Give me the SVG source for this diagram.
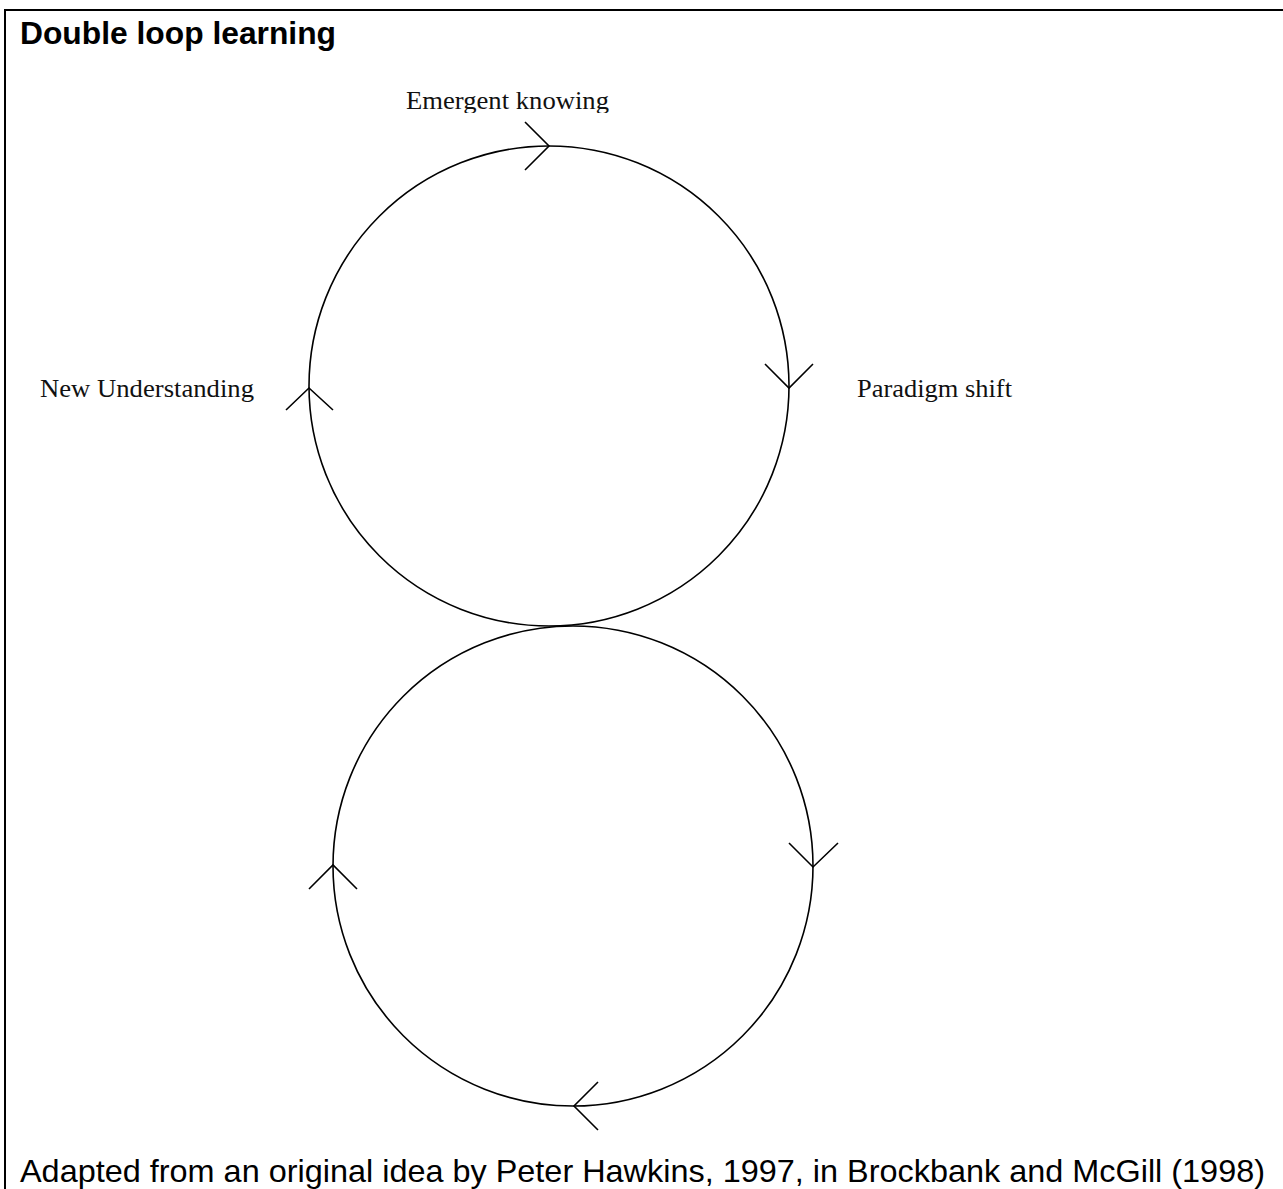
<svg xmlns="http://www.w3.org/2000/svg" width="1283" height="1189" viewBox="0 0 1283 1189">
<style>
.frame{fill:none;stroke:#000;stroke-width:2}
.loop{fill:none;stroke:#000;stroke-width:1.6}
.arrow{fill:none;stroke:#000;stroke-width:1.6;stroke-linecap:butt;stroke-linejoin:miter}
.serif{font-family:"Liberation Serif","Times New Roman",serif;font-size:26px;fill:#111}
.sans{font-family:"Liberation Sans",Arial,sans-serif;fill:#000}
</style>
<defs>
<clipPath id="clipTop"><rect x="0" y="0" width="1283" height="113"/></clipPath>
</defs>
<rect width="1283" height="1189" fill="#fff"/>
<g id="frame">
<line class="frame" x1="5" y1="10" x2="1283" y2="10"/>
<line class="frame" x1="5" y1="9" x2="5" y2="1189"/>
</g>
<g id="title">
<text class="sans" x="20" y="44" font-size="32" font-weight="bold" textLength="316" lengthAdjust="spacingAndGlyphs">Double loop learning</text>
</g>
<g id="top-loop">
<circle class="loop" cx="549" cy="386" r="240"/>
</g>
<g id="bottom-loop">
<circle class="loop" cx="573" cy="866" r="240"/>
</g>
<g id="connectors">
<polyline class="arrow" points="525,122 549,146 525,170"/>
<polyline class="arrow" points="765,364 789,388 813,364"/>
<polyline class="arrow" points="286,410 309,388 333,410"/>
<polyline class="arrow" points="789,843 813,867 838,843"/>
<polyline class="arrow" points="309,889 333,865 357,889"/>
<polyline class="arrow" points="598,1082 574,1106 598,1130"/>
</g>
<g id="label-emergent" clip-path="url(#clipTop)">
<text class="serif" x="406" y="109" textLength="203" lengthAdjust="spacingAndGlyphs">Emergent knowing</text>
</g>
<g id="label-new">
<text class="serif" x="40" y="397" textLength="214" lengthAdjust="spacingAndGlyphs">New Understanding</text>
</g>
<g id="label-paradigm">
<text class="serif" x="857" y="397" textLength="155" lengthAdjust="spacingAndGlyphs">Paradigm shift</text>
</g>
<g id="caption">
<text class="sans" x="20" y="1182" font-size="32" textLength="1245" lengthAdjust="spacingAndGlyphs">Adapted from an original idea by Peter Hawkins, 1997, in Brockbank and McGill (1998)</text>
</g>
</svg>
